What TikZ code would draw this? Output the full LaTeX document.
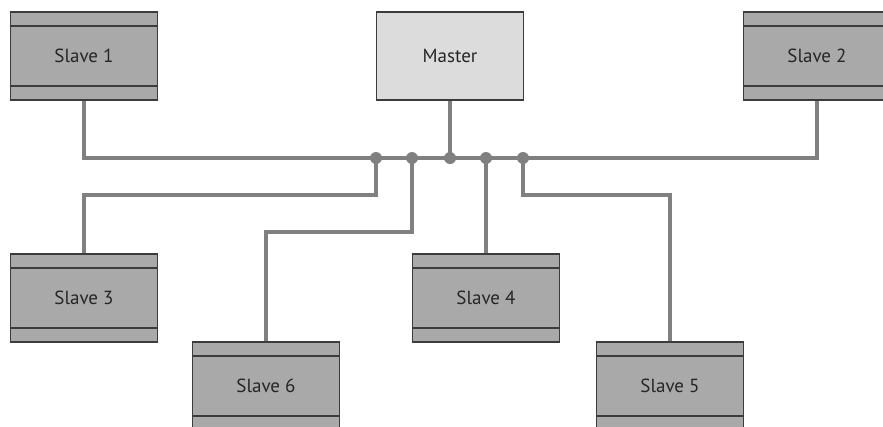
\documentclass[tikz,border=0pt]{standalone}
\usepackage{fontspec}
\setmainfont{PT Sans}
\definecolor{boxgray}{HTML}{A9A9A9}
\definecolor{mastergray}{HTML}{DCDCDC}
\definecolor{edgegray}{HTML}{3C3C3C}
\definecolor{busgray}{HTML}{808080}
\tikzset{
  unitbox/.style={draw=edgegray,line width=1.3pt,minimum width=147pt,minimum height=88pt,inner sep=0pt,font=\fontsize{19}{22}\selectfont,text=black!85},
  slavebox/.style={unitbox,fill=boxgray,
    path picture={
      \draw[edgegray,line width=1.3pt]
      ([yshift=-14pt]path picture bounding box.north west) -- ([yshift=-14pt]path picture bounding box.north east)
      ([yshift=14pt]path picture bounding box.south west) -- ([yshift=14pt]path picture bounding box.south east);
    }},
  masterbox/.style={unitbox,fill=mastergray},
  bus/.style={draw=busgray,line width=3.4pt},
  tap/.style={fill=busgray}
}
\begin{document}
\begin{tikzpicture}[x=1pt,y=-1pt]
\useasboundingbox (0,0) rectangle (883,426);
% units
\node[slavebox] (s1) at (84,56) {Slave 1};
\node[masterbox] (m) at (450,56) {Master};
\node[slavebox] (s2) at (817,56) {Slave 2};
\node[slavebox] (s3) at (84,298) {Slave 3};
\node[slavebox] (s4) at (486,298) {Slave 4};
\node[slavebox] (s6) at (266,386) {Slave 6};
\node[slavebox] (s5) at (670,386) {Slave 5};
% taps on the bus
\coordinate (j1) at (376,158);
\coordinate (j2) at (412,158);
\coordinate (j3) at (450,158);
\coordinate (j4) at (486,158);
\coordinate (j5) at (523,158);
% wiring
\draw[bus]
  (s1.south) |- (j3) -| (s2.south)
  (m.south) -- (j3)
  (j1) -- ++(0,37) -| (s3.north)
  (j2) -- ++(0,74) -| (s6.north)
  (j4) -- (s4.north)
  (j5) -- ++(0,37) -| (s5.north)
  ;
\foreach \j in {j1,j2,j3,j4,j5}
  \fill[tap] (\j) circle (6pt);
\end{tikzpicture}
\end{document}
